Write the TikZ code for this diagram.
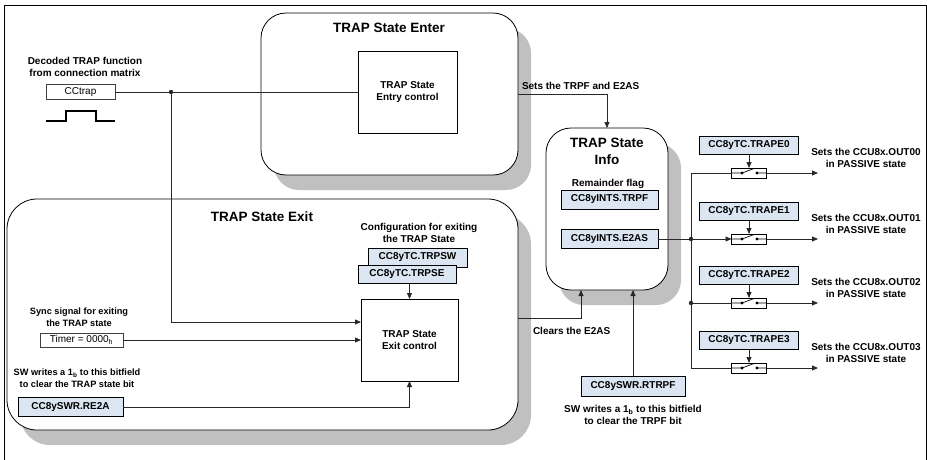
\documentclass[tikz,border=0pt]{standalone}
\usepackage{fontspec}
\setmainfont{Liberation Sans}
\usetikzlibrary{arrows.meta,shadows,calc}
\definecolor{regfill}{RGB}{220,230,242}
\definecolor{shadowgray}{RGB}{192,192,192}
\definecolor{linecol}{RGB}{40,40,40}
\newcommand{\lblfont}{\fontsize{10}{12}\selectfont\bfseries}
\newcommand{\smlblfont}{\fontsize{9.2}{11.5}\selectfont\bfseries}
\newcommand{\normfont}{\fontsize{10}{12}\selectfont}
\newcommand{\ttlfont}{\fontsize{13.5}{17}\selectfont\bfseries}
\begin{document}
\begin{tikzpicture}[x=1pt,y=-1pt,
  every node/.style={outer sep=0pt,inner sep=0pt},
  bigbox/.style={draw=black,fill=white,line width=0.8pt,anchor=north west,
    drop shadow={shadow xshift=13pt,shadow yshift=-15pt,fill=shadowgray,opacity=1}},
  ctrlbox/.style={draw=black,fill=white,line width=0.8pt,anchor=north west,align=center,font=\lblfont},
  reg/.style={draw=black,fill=regfill,line width=0.8pt,anchor=north west,font=\lblfont,minimum height=19},
  plainbox/.style={draw=black!75,fill=white,line width=0.7pt,anchor=north west,font=\normfont},
  lbl/.style={align=center,font=\lblfont},
  smlbl/.style={align=center,font=\smlblfont},
  ttl/.style={align=center,font=\ttlfont},
  conn/.style={draw=linecol,line width=0.8pt},
  arr/.style={-{Triangle[length=6pt,width=5pt]}},
  swbox/.style={draw=black,fill=white,line width=0.7pt,minimum width=35,minimum height=10}
]
\useasboundingbox (0,0) rectangle (927,459);
% outer frame
\draw[line width=0.8pt] (4,470) -- (4,5) -- (926,5) -- (926,470);

% big rounded regions
\node[bigbox,minimum width=257,minimum height=162,rounded corners=25] (enter) at (261,13) {};
\node[ttl] (entert) at (389,28) {TRAP State Enter};
\node[bigbox,minimum width=511,minimum height=231,rounded corners=30] (exit) at (7,199) {};
\node[ttl] (exitt) at (262,217) {TRAP State Exit};
\node[bigbox,minimum width=122,minimum height=162,rounded corners=25] (info) at (546,128) {};
\node[ttl] (infot) at (607,151) {TRAP State\\Info};

% control boxes
\node[ctrlbox,minimum width=99,minimum height=82] (entry) at (358,51) {TRAP State\\Entry control};
\node[ctrlbox,minimum width=97,minimum height=82] (exitc) at (361,299) {TRAP State\\Exit control};

% CCtrap input
\node[plainbox,minimum width=69,minimum height=15] (cctrap) at (46,84.5) {CCtrap};
\node[lbl] (cctrapl) at (85,67) {Decoded TRAP function\\from connection matrix};
\draw[line width=1.1pt] (46,121) -- (66,121) -- (66,111) -- (96,111) -- (96,121) -- (115,121);
\coordinate (jtrap) at (171,92);
\coordinate (jdown) at (171,322);
\draw[conn] (cctrap.east) -- (entry.west);
\draw[conn,arr] (jtrap) -- (jdown) -- (exitc.west |- jdown);
\fill[linecol] (jtrap) circle (2.2);

% timer
\node[smlbl] (syncl) at (79,317) {Sync signal for exiting\\the TRAP state};
\node[plainbox,minimum width=83,minimum height=14] (timer) at (40,333) {Timer = 0000\textsubscript{h}};
\draw[conn,arr] (timer.east) -- (exitc.west |- timer.east);

% RE2A
\node[smlbl] (re2al) at (77,378) {SW writes a 1\textsubscript{b} to this bitfield\\to clear the TRAP state bit};
\node[reg,minimum width=105] (re2a) at (18,397.5) {CC8ySWR.RE2A};
\draw[conn,arr] (re2a.east) -- (exitc.south |- re2a.east) -- (exitc.south);

% configuration
\node[lbl] (cfgl) at (419,233) {Configuration for exiting\\the TRAP State};
\node[reg,minimum width=99] (trpsw) at (368,248) {CC8yTC.TRPSW};
\node[reg,minimum width=98,minimum height=18] (trpse) at (358,265) {CC8yTC.TRPSE};
\draw[conn,arr] (exitc.north |- trpse.south) -- (exitc.north);

% info internals
\node[lbl] (reml) at (608,184) {Remainder flag};
\node[reg,minimum width=97] (trpf) at (561,190) {CC8yINTS.TRPF};
\node[reg,minimum width=97] (e2as) at (561,229.5) {CC8yINTS.E2AS};

% enter -> info
\coordinate (c1) at (607,94);
\draw[conn,arr] (enter.east |- c1) -- (c1) -- (c1 |- info.north);
\node[lbl,anchor=west] (setl) at (522,86) {Sets the TRPF and E2AS};

% exit -> info
\coordinate (c2) at (581,318);
\draw[conn,arr] (exit.east |- c2) -- (c2) -- (c2 |- info.south);
\node[lbl,anchor=west] (clrl) at (533,331) {Clears the E2AS};

% RTRPF
\node[reg,minimum width=104,minimum height=20] (rtrpf) at (581,376) {CC8ySWR.RTRPF};
\draw[conn,arr] (rtrpf.north) -- (rtrpf.north |- info.south);
\node[lbl] (rtrpfl) at (633,415) {SW writes a 1\textsubscript{b} to this bitfield\\to clear the TRPF bit};

% output rows
\foreach \i/\y in {0/173,1/239,2/303,3/368}{
  \node[reg,minimum width=99,minimum height=18] (te\i) at (699.5,\y-37) {CC8yTC.TRAPE\i};
  \node[swbox] (sw\i) at (749,\y) {};
  \draw[line width=0.7pt] (731.5,\y) -- (742,\y) (742,\y) -- (754,\y-4.5) (757,\y) -- (766.5,\y);
  \fill (742,\y) circle (1.6);
  \fill (757,\y) circle (1.6);
  \draw[conn,arr] (te\i.south) -- (sw\i.north);
  \coordinate (out\i) at (818,\y);
  \draw[conn,arr] (sw\i.east) -- (out\i);
  \node[lbl] (outl\i) at (866,\y-15) {Sets the CCU8x.OUT0\i\\in PASSIVE state};
}
\coordinate (j0) at (691,173);
\coordinate (j1) at (691,239);
\coordinate (j2) at (691,303);
\coordinate (j3) at (691,368);
\draw[conn] (sw0.west) -- (j0) -- (j3) -- (sw3.west);
\draw[conn] (j2) -- (sw2.west);
\draw[conn,arr] (e2as.east) -- (sw1.west);
\fill[linecol] (j1) circle (2.2);
\fill[linecol] (j2) circle (2.2);
\end{tikzpicture}
\end{document}
